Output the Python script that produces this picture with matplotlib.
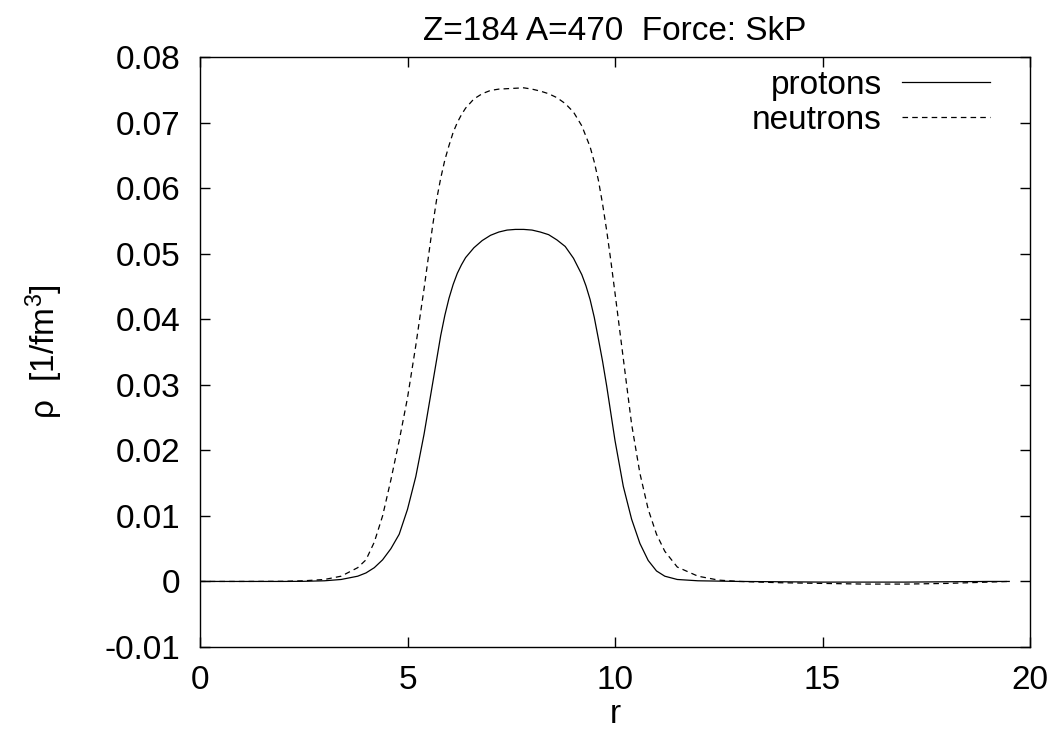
import numpy as np
import matplotlib
matplotlib.use("Agg")
import matplotlib.pyplot as plt
from matplotlib import ticker

plt.rcParams['font.family'] = ['Liberation Sans', 'DejaVu Sans']
plt.rcParams['mathtext.fontset'] = 'custom'
plt.rcParams['mathtext.rm'] = 'Liberation Sans'
plt.rcParams['mathtext.it'] = 'Liberation Sans'
plt.rcParams['axes.unicode_minus'] = False
plt.rcParams['lines.scale_dashes'] = False

# density profiles
r_p = [0, 1, 2, 2.5, 3.0, 3.4, 3.8, 4.0, 4.2, 4.4, 4.6, 4.8, 5.0, 5.2, 5.4, 5.6,
       5.8, 5.9, 6.0, 6.1, 6.2, 6.3, 6.4, 6.6, 6.8, 7.0, 7.2, 7.4, 7.6, 7.8,
       8.0, 8.2, 8.4, 8.6, 8.8, 9.0, 9.2, 9.3, 9.4, 9.5, 9.6, 9.7, 9.8, 10.0,
       10.2, 10.4, 10.6, 10.8, 11.0, 11.2, 11.5, 12.0, 13, 14, 15, 16, 17, 18,
       19, 19.5]
rho_p = [0, 0, 0, 0.00002, 0.0001, 0.0003, 0.0008, 0.0013, 0.0021, 0.0033,
         0.0050, 0.0072, 0.0110, 0.0160, 0.0225, 0.0300, 0.0375, 0.0406,
         0.0432, 0.0453, 0.0470, 0.0483, 0.0494, 0.0509, 0.0520, 0.0528,
         0.0533, 0.0536, 0.0537, 0.0537, 0.0536, 0.0533, 0.0529, 0.0521,
         0.0511, 0.0493, 0.0468, 0.0451, 0.0430, 0.0403, 0.0370, 0.0336,
         0.0298, 0.0215, 0.0145, 0.0095, 0.0058, 0.0032, 0.0016, 0.0008,
         0.0003, 0.0001, 0.0, -0.00005, -0.0001, -0.0001, -0.0001, -0.00005,
         0, 0]

r_n = [0, 1, 2, 2.5, 3.0, 3.4, 3.8, 4.0, 4.2, 4.4, 4.6, 4.8, 5.0, 5.2, 5.4, 5.6,
       5.7, 5.8, 5.9, 6.0, 6.1, 6.2, 6.3, 6.4, 6.6, 6.8, 7.0, 7.2, 7.5, 7.8,
       8.0, 8.2, 8.4, 8.6, 8.8, 9.0, 9.2, 9.4, 9.5, 9.6, 9.7, 9.8, 9.9, 10.0,
       10.2, 10.4, 10.6, 10.8, 11.0, 11.2, 11.5, 12.0, 12.5, 13.0, 14, 15, 16,
       17, 18, 19, 19.5]
rho_n = [0, 0, 0.00002, 0.0001, 0.0003, 0.0008, 0.0021, 0.0033, 0.0060, 0.0100,
         0.0155, 0.0215, 0.0280, 0.0360, 0.0447, 0.0540, 0.0582, 0.0615,
         0.0643, 0.0665, 0.0685, 0.0700, 0.0712, 0.0722, 0.0736, 0.0744,
         0.0749, 0.0751, 0.0752, 0.0753, 0.0751, 0.0748, 0.0744, 0.0738,
         0.0729, 0.0716, 0.0695, 0.0663, 0.0640, 0.0612, 0.0576, 0.0535,
         0.0489, 0.0440, 0.0340, 0.0240, 0.0165, 0.0110, 0.0072, 0.0046,
         0.0022, 0.0008, 0.0002, 0.0, -0.0002, -0.0003, -0.0004, -0.0004,
         -0.0003, -0.0001, 0]

fig = plt.figure(figsize=(10.55, 7.31), dpi=100)
ax = fig.add_axes([200 / 1055, 84 / 731, 830 / 1055, 590 / 731])

ax.plot(r_p, rho_p, color='black', lw=0.9, label='protons')
ax.plot(r_n, rho_n, color='black', lw=0.9, linestyle=(0, (4, 3)), label='neutrons')

ax.set_xlim(0, 20)
ax.set_ylim(-0.01, 0.08)
ax.xaxis.set_major_locator(ticker.MultipleLocator(5))
ax.yaxis.set_major_locator(ticker.MultipleLocator(0.01))
ax.yaxis.set_major_formatter(ticker.FuncFormatter(lambda v, p: f'{round(v, 4):g}'))
ax.tick_params(direction='in', length=7, width=1, top=True, right=True,
               labelsize=24, pad=13)
ax.tick_params(axis='y', pad=14)
for s in ax.spines.values():
    s.set_linewidth(1.0)

ax.set_xlabel('r', fontsize=24)
ax.set_ylabel('ρ  [1/fm$^3$]', fontsize=24)
ax.xaxis.set_label_coords(0.5, -0.088)
ax.yaxis.set_label_coords(-0.163, 0.5)
ax.set_title('Z=184 A=470  Force: SkP', fontsize=24, pad=12)

ax.legend(loc='upper right', bbox_to_anchor=(0.952, 0.978), frameon=False,
          markerfirst=False, fontsize=24, handlelength=2.65, handletextpad=0.6,
          labelspacing=0.11, borderpad=0, borderaxespad=0)

fig.savefig('out.png', dpi=100)
